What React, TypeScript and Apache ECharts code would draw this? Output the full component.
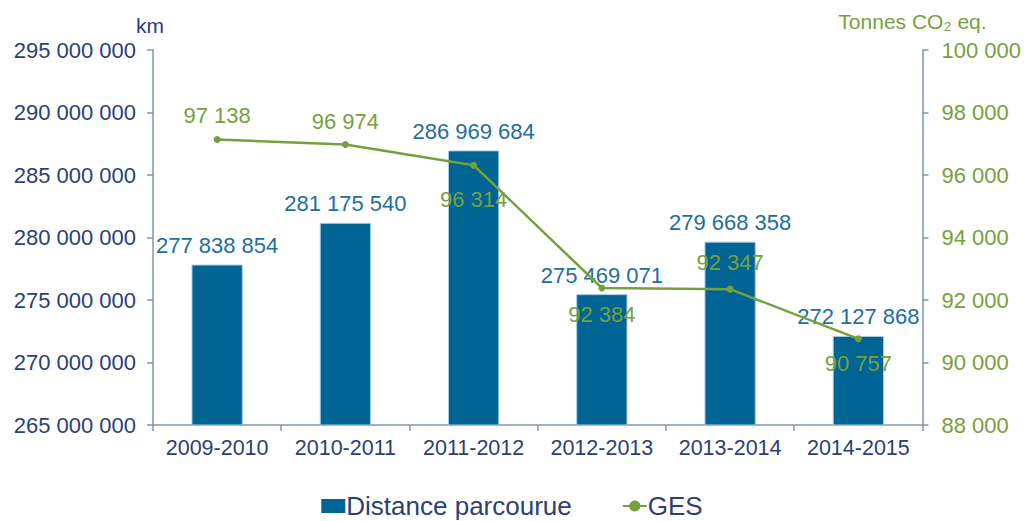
import React, { useEffect, useRef } from "react";
import * as echarts from "echarts";

const categories = ["2009-2010", "2010-2011", "2011-2012", "2012-2013", "2013-2014", "2014-2015"];
const distance = [277838854, 281175540, 286969684, 275469071, 279668358, 272127868];
const ges = [97138, 96974, 96314, 92384, 92347, 90757];
const gesLabelPos = ["top", "top", "bottom", "bottom", "top", "bottom"];
const gesLabelDist = [9, 9, 20, 12, 12, 10];

const fmt = (v: number) => String(Math.round(v)).replace(/\B(?=(\d{3})+(?!\d))/g, " ");

const NAVY = "#2B4078";
const BAR = "#006494";
const BARLABEL = "#1E6E9E";
const GREEN = "#76A03C";
const AXIS = "#8592B6";
const FONT = "Liberation Sans, Arial, sans-serif";

export default function App() {
  const ref = useRef<HTMLDivElement>(null);
  useEffect(() => {
    if (!ref.current) return;
    const chart = echarts.init(ref.current, undefined, { renderer: "svg" });
    chart.setOption({
      animation: false,
      textStyle: { fontFamily: FONT },
      grid: { left: 153, right: 100, top: 50, bottom: 96, containLabel: false },
      legend: {
        bottom: -3,
        left: "center",
        itemWidth: 24,
        itemHeight: 14,
        itemGap: 50,
        textStyle: { color: NAVY, fontSize: 26, fontFamily: FONT, padding: [0, 0, 0, -4] },
        data: [
          { name: "Distance parcourue", icon: "rect", itemStyle: { borderWidth: 0 } },
          { name: "GES" },
        ],
      },
      xAxis: {
        type: "category",
        data: categories,
        axisLine: { lineStyle: { color: AXIS, width: 1.5 } },
        axisTick: { show: true, length: 6, lineStyle: { color: AXIS, width: 1.5 } },
        axisLabel: { color: NAVY, fontSize: 21.5, margin: 12, interval: 0, fontFamily: FONT },
      },
      yAxis: [
        {
          type: "value",
          min: 265000000,
          max: 295000000,
          interval: 5000000,
          name: "km",
          nameGap: 14,
          nameTextStyle: { color: NAVY, fontSize: 21, fontFamily: FONT, padding: [0, 6, 0, 0] },
          axisLine: { show: true, lineStyle: { color: AXIS, width: 1.5 } },
          axisTick: { show: true, length: 6, lineStyle: { color: AXIS, width: 1.5 } },
          splitLine: { show: false },
          axisLabel: { color: NAVY, fontSize: 22, margin: 17, formatter: (v: number) => fmt(v), fontFamily: FONT },
        },
        {
          type: "value",
          min: 88000,
          max: 100000,
          interval: 2000,
          name: "Tonnes CO\u2082 eq.",
          nameGap: 18,
          nameTextStyle: { color: GREEN, fontSize: 21, fontFamily: FONT, padding: [0, 20, 0, 0] },
          position: "right",
          axisLine: { show: true, lineStyle: { color: AXIS, width: 1.5 } },
          axisTick: { show: true, length: 6, lineStyle: { color: AXIS, width: 1.5 } },
          splitLine: { show: false },
          axisLabel: { color: GREEN, fontSize: 22, margin: 19, formatter: (v: number) => fmt(v), fontFamily: FONT },
        },
      ],
      series: [
        {
          name: "Distance parcourue",
          type: "bar",
          data: distance,
          barWidth: "40%",
          itemStyle: { color: BAR, borderColor: "#A8CCE2", borderWidth: 1 },
          label: {
            show: true,
            position: "top",
            distance: 8,
            color: BARLABEL,
            fontSize: 22,
            fontFamily: FONT,
            formatter: (p: any) => fmt(p.value),
          },
        },
        {
          name: "GES",
          type: "line",
          yAxisIndex: 1,
          data: ges.map((v, i) => ({
            value: v,
            label: { position: gesLabelPos[i], distance: gesLabelDist[i] },
          })),
          symbol: "circle",
          symbolSize: 7,
          lineStyle: { color: GREEN, width: 2.5 },
          itemStyle: { color: GREEN },
          label: {
            show: true,
            color: GREEN,
            fontSize: 22,
            fontFamily: FONT,
            formatter: (p: any) => fmt(p.value),
          },
        },
      ],
    });
    return () => chart.dispose();
  }, []);
  return <div ref={ref} style={{ width: 1024, height: 521, position: "absolute", left: 0, top: 0 }} />;
}
